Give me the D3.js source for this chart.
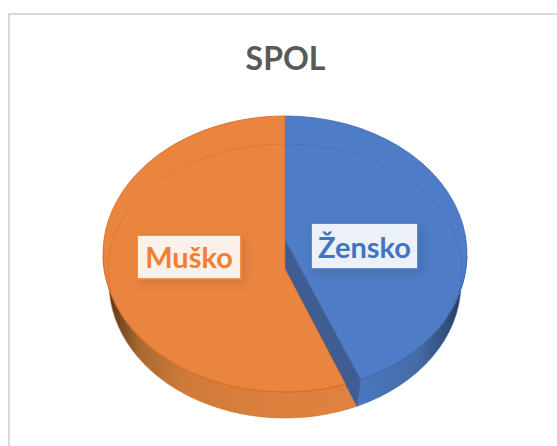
<!DOCTYPE html>
<html><head><meta charset="utf-8">
<script src="https://cdn.jsdelivr.net/npm/d3@7"></script>
<style>html,body{margin:0;padding:0;background:#fff}svg{display:block}</style>
</head><body><div id="c"></div>
<script>
const categories = ["Žensko", "Muško"];
const values = [43.2, 56.8];
const title = "SPOL";

const W = 557, H = 446;
const colors = {top:["#4f7cc6","#ea8540"], line:["#3f68ad","#d4691f"], text:["#4472c4","#f08030"], box:["#ecf1f9","#fbf0ea"], border:["#4a78c8","#f0812f"]};
const cx = 285, topE = {cy:254, rx:182, ry:138}, botE = {cy:283, rx:176, ry:135}, innerE = {cy:268, rx:177, ry:124};
const apexTop = 240, apexBot = 269;

const pie = d3.pie().sort(null).startAngle(0).endAngle(2*Math.PI)(values);
const pt = (e,a) => [cx + e.rx*Math.sin(a), e.cy - e.ry*Math.cos(a)];
const split = pie[0].endAngle;
const svg = d3.select("#c").append("svg").attr("width",W).attr("height",H);
const defs = svg.append("defs");

const grad = (id, stops) => {
  const g = defs.append("linearGradient").attr("id",id).attr("gradientUnits","userSpaceOnUse")
    .attr("x1",cx-182).attr("x2",cx+182).attr("y1",0).attr("y2",0);
  stops.forEach(s => g.append("stop").attr("offset",s[0]).attr("stop-color",s[1]));
};
grad("sideO", [[0,"#4a2e16"],[0.04,"#6d4522"],[0.1,"#a8692f"],[0.22,"#cf7a3a"],[0.5,"#de813f"],[1,"#e08240"]]);
grad("sideB", [[0,"#4a76be"],[0.72,"#4a76be"],[0.86,"#466ca6"],[0.95,"#324c78"],[1,"#22344f"]]);
const f = defs.append("filter").attr("id","sh").attr("x","-20%").attr("y","-20%").attr("width","150%").attr("height","150%");
f.append("feDropShadow").attr("dx",4).attr("dy",4).attr("stdDeviation",4).attr("flood-color","#000").attr("flood-opacity",0.1);

svg.append("path").attr("d",`M9 446V14H${W}`).attr("fill","none").attr("stroke","#d9d9d9").attr("stroke-width",2);
svg.append("text").attr("x",285.5).attr("y",70).attr("text-anchor","middle")
  .attr("font-family","Lato").attr("font-weight",700).attr("font-size",32).attr("fill","#595959").text(title);

// side walls
const wallStartL = pt(topE, -Math.PI/2 - 0.02), wallEndR = pt(topE, Math.PI/2 + 0.02);
const topSplit = pt(topE, split);
const botSplit = pt(botE, Math.PI - Math.asin((357-cx)/botE.rx));
const arcTo = (e,p,sweep,large=0) => `A${e.rx} ${e.ry} 0 ${large} ${sweep} ${p[0]} ${p[1]}`;
const botL = pt(botE, -Math.PI/2 - 0.02), botR = pt(botE, Math.PI/2 + 0.02);
svg.append("path").attr("fill","url(#sideO)").attr("stroke","#d4691f").attr("stroke-width",0.6)
  .attr("d",`M${topSplit} ${arcTo(topE,wallStartL,1)} L${botL} ${arcTo(botE,botSplit,0)}Z`);
svg.append("path").attr("fill","url(#sideB)").attr("stroke","#3f68ad").attr("stroke-width",0.6)
  .attr("d",`M${topSplit} ${arcTo(topE,wallEndR,0)} L${botR} ${arcTo(botE,botSplit,1)}Z`);

// top faces
const large = d => d.endAngle - d.startAngle > Math.PI ? 1 : 0;
const faces = svg.append("g");
faces.append("path").attr("fill",colors.top[0]).attr("stroke",colors.line[0]).attr("stroke-width",0.8)
  .attr("d",`M${cx} ${apexTop}L${pt(topE,pie[0].startAngle)} ${arcTo(topE,pt(topE,pie[0].endAngle),1,large(pie[0]))}Z`);
faces.append("path").attr("fill","#3f5d92").attr("stroke","#3f5d92").attr("stroke-width",0.5)
  .attr("d",`M${cx} ${apexTop}L${topSplit}L${botSplit}L${cx} ${apexBot}Z`);
// where the cut's lower edge leaves the rim of the top face
const slope = (botSplit[0]-cx)/(botSplit[1]-apexBot);
const onEdge = d3.range(apexBot, botSplit[1], 0.1).map(y => [cx + slope*(y-apexBot), y])
  .find(p => ((p[0]-cx)/topE.rx)**2 + ((p[1]-topE.cy)/topE.ry)**2 >= 1);
const orangeAngle = Math.PI - Math.asin((onEdge[0]-cx)/topE.rx);
const orangeEnd = pt(topE, orangeAngle);
faces.append("path").attr("fill",colors.top[1]).attr("stroke",colors.line[1]).attr("stroke-width",0.8)
  .attr("d",`M${cx} ${apexBot}L${orangeEnd} ${arcTo(topE,pt(topE,pie[1].endAngle),1,1)}Z`);
const rim = faces.append("g").attr("fill","none").attr("stroke-width",1).attr("stroke-opacity",0.5);
rim.append("path").attr("stroke",colors.line[1]).attr("d",`M${pt(innerE,orangeAngle)} ${arcTo(innerE,[cx,innerE.cy-innerE.ry],1,1)}`);
rim.append("path").attr("stroke",colors.line[0]).attr("d",`M${cx} ${innerE.cy-innerE.ry} ${arcTo(innerE,pt(innerE,split),1,0)}`);

// labels
const labelBoxes = [[311,223,107,46,364.5,258],[137,235,104,44,189,268]];
categories.forEach((c,i) => {
  const [x,y,w,h,tx,ty] = labelBoxes[i];
  svg.append("rect").attr("x",x).attr("y",y).attr("width",w).attr("height",h)
    .attr("fill",colors.box[i]).attr("stroke",colors.border[i]).attr("stroke-width",2).attr("stroke-opacity",0.85).attr("filter","url(#sh)");
  svg.append("text").attr("x",tx).attr("y",ty).attr("text-anchor","middle")
    .attr("font-family","Lato").attr("font-weight",700).attr("font-size",29).attr("fill",colors.text[i]).text(c);
});
</script></body></html>
